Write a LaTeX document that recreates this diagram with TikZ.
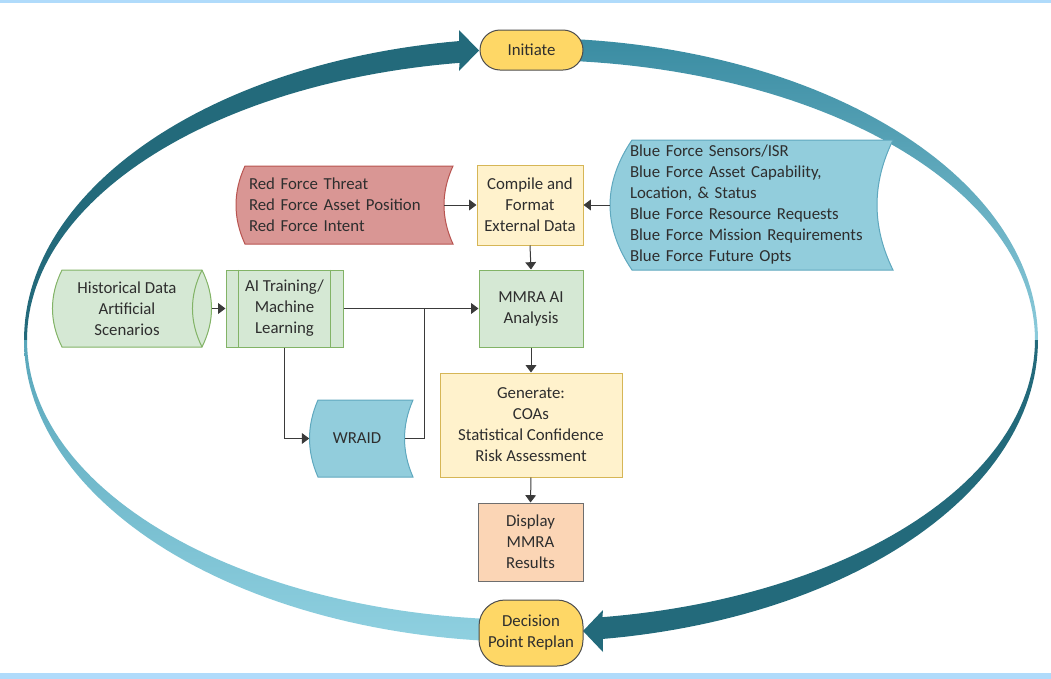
\documentclass[tikz,border=0pt]{standalone}
\usepackage{fontspec}
\setmainfont{Carlito}
\usetikzlibrary{arrows.meta}
\newdimen\pxu \pxu=0.75pt
\definecolor{bar}{HTML}{B0DBFB}
\definecolor{tealdark}{HTML}{236A7B}
\definecolor{tealtop}{HTML}{3A8CA2}
\definecolor{teallight}{HTML}{8CCBDB}
\definecolor{tealmid}{HTML}{58A6BA}
\definecolor{tealpale}{HTML}{8FD0E0}
\definecolor{pillfill}{HTML}{FED766}
\definecolor{pillline}{HTML}{4D4D4D}
\definecolor{redfill}{HTML}{D99694}
\definecolor{redline}{HTML}{B85450}
\definecolor{bluefill}{HTML}{92CDDC}
\definecolor{blueline}{HTML}{5FA8BE}
\definecolor{greenfill}{HTML}{D5E8D4}
\definecolor{greenline}{HTML}{82B366}
\definecolor{yelfill}{HTML}{FFF2CC}
\definecolor{yelline}{HTML}{D6B656}
\definecolor{peachfill}{HTML}{FBD5B5}
\definecolor{peachline}{HTML}{6E6E6E}
\definecolor{txt}{HTML}{2E2E2E}
\definecolor{linec}{HTML}{3A3A3A}
\tikzset{
  base/.style={inner sep=0pt, text=txt, align=center},
  pill/.style={base, draw=pillline, fill=pillfill, line width=0.75pt},
  ybox/.style={base, draw=yelline, fill=yelfill, line width=0.75pt},
  gbox/.style={base, draw=greenline, fill=greenfill, line width=0.75pt},
  pbox/.style={base, draw=peachline, fill=peachfill, line width=0.75pt},
  redshape/.style={fill=redfill, draw=redline, line width=0.75pt},
  blueshape/.style={fill=bluefill, draw=blueline, line width=0.75pt},
  greenshape/.style={fill=greenfill, draw=greenline, line width=0.75pt},
  wire/.style={draw=linec, line width=0.75pt},
  conn/.style={wire, -{Triangle[length=5.5pt,width=8pt]}},
}
\begin{document}
\begin{tikzpicture}[x=0.75pt,y=-0.75pt,font=\fontsize{12.6pt}{15.75pt}\selectfont]
\useasboundingbox (0,0) rectangle (1051,679);
\fill[bar] (0,0) rectangle (1051,3);
\fill[bar] (0,673) rectangle (1051,679);

% left cycle arrow (upper, dark, with head)
\fill[tealdark] plot[domain=261.85:180,samples=60,variable=\t] ({531+507*cos(\t)},{340+302*sin(\t)})
  -- plot[domain=180:261.85,samples=60,variable=\t] ({531+504*cos(\t)},{340+280*sin(\t)})
  -- (459,71) -- (479,50.5) -- (459,30) -- cycle;
% left cycle arrow (lower, shaded)
\shade[top color=tealmid, bottom color=tealpale] plot[domain=180:93.5,samples=60,variable=\t] ({531+507*cos(\t)},{340+302*sin(\t)})
  -- plot[domain=93.5:180,samples=60,variable=\t] ({531+504*cos(\t)},{340+280*sin(\t)}) -- cycle;
% right cycle arrow (upper, shaded)
\shade[top color=tealtop, bottom color=teallight] plot[domain=273:360,samples=60,variable=\t] ({531+507*cos(\t)},{340+302*sin(\t)})
  -- plot[domain=360:273,samples=60,variable=\t] ({531+504*cos(\t)},{340+280*sin(\t)}) -- cycle;
% right cycle arrow (lower, dark, with head)
\fill[tealdark] plot[domain=0:81.85,samples=60,variable=\t] ({531+507*cos(\t)},{340+302*sin(\t)})
  -- (603,652) -- (583,631) -- (603,610)
  -- plot[domain=81.85:0,samples=60,variable=\t] ({531+504*cos(\t)},{340+280*sin(\t)}) -- cycle;

% stored-data shapes
\filldraw[redshape] (245,166) -- (453,166) .. controls (441,192) and (441,218) .. (453,244)
  -- (245,244) .. controls (233,218) and (233,192) .. (245,166) -- cycle;
\filldraw[blueshape] (632,140) -- (893,140) .. controls (871.7,183.3) and (871.7,226.7) .. (893,270)
  -- (632,270) .. controls (602.7,226.7) and (602.7,183.3) .. (632,140) -- cycle;
\filldraw[blueshape] (318,400) -- (413,400) .. controls (401.7,425.7) and (401.7,451.3) .. (413,477)
  -- (318,477) .. controls (306.7,451.3) and (306.7,425.7) .. (318,400) -- cycle;
\filldraw[greenshape] (62,270) -- (202,270) .. controls (214.7,295.7) and (214.7,321.3) .. (202,347)
  -- (62,347) .. controls (49.3,321.3) and (49.3,295.7) .. (62,270) -- cycle;
\draw[greenline, line width=0.75pt] (202,270) .. controls (189.3,295.7) and (189.3,321.3) .. (202,347);

% nodes
\node[pill, minimum width=103\pxu, minimum height=40\pxu, rounded corners=20\pxu] (init) at (531.5,50) {Initiate};
\node[pill, minimum width=104\pxu, minimum height=66\pxu, rounded corners=26\pxu] (decide) at (531,633) {Decision\\Point Replan};

\node[base, align=left, minimum width=208\pxu, minimum height=78\pxu, text width=182\pxu, inner xsep=13\pxu] (red) at (340,205)
  {Red Force Threat\\Red Force Asset Position\\Red Force Intent};
\node[base, align=left, minimum height=130\pxu, text width=250\pxu, inner xsep=20\pxu] (blue) at (755,205)
  {Blue Force Sensors/ISR\\Blue Force Asset Capability,\\Location, \& Status\\Blue Force Resource Requests\\Blue Force Mission Requirements\\Blue Force Future Opts};
\node[base, minimum width=95\pxu, minimum height=77\pxu] (wraid) at (357,438.5) {WRAID};
\node[base, minimum width=149\pxu, minimum height=77\pxu] (hist) at (127,308.5) {Historical Data\\Artificial\\Scenarios};

\node[ybox, minimum width=106\pxu, minimum height=80\pxu] (compile) at (530,205) {Compile and\\Format\\External Data};
\node[gbox, minimum width=117\pxu, minimum height=77\pxu] (ai) at (284.5,308.5) {AI Training/\\Machine\\Learning};
\draw[greenline, line width=0.75pt] ([xshift=13\pxu]ai.north west) -- ([xshift=13\pxu]ai.south west)
  ([xshift=-13\pxu]ai.north east) -- ([xshift=-13\pxu]ai.south east);
\node[gbox, minimum width=104\pxu, minimum height=77\pxu] (mmra) at (531,308.5) {MMRA AI\\Analysis};
\node[ybox, minimum width=182\pxu, minimum height=104\pxu] (gen) at (531,425) {Generate:\\COAs\\Statistical Confidence\\Risk Assessment};
\node[pbox, minimum width=105\pxu, minimum height=78\pxu] (disp) at (530.5,542) {Display\\MMRA\\Results};

% connectors
\coordinate (junc) at (424,308.5);
\draw[conn] (red.east) -- (compile.west);
\draw[conn] (blue.west) -- (compile.east);
\draw[conn] (compile.south) -- (mmra.north);
\draw[conn] ([xshift=10\pxu]hist.east) -- (ai.west);
\draw[conn] (ai.east) -- (mmra.west);
\draw[conn] (ai.south) |- (wraid.west);
\draw[wire] (wraid.east) -| (junc);
\draw[conn] (mmra.south) -- (gen.north);
\draw[conn] (gen.south) -- (disp.north);
\end{tikzpicture}
\end{document}
